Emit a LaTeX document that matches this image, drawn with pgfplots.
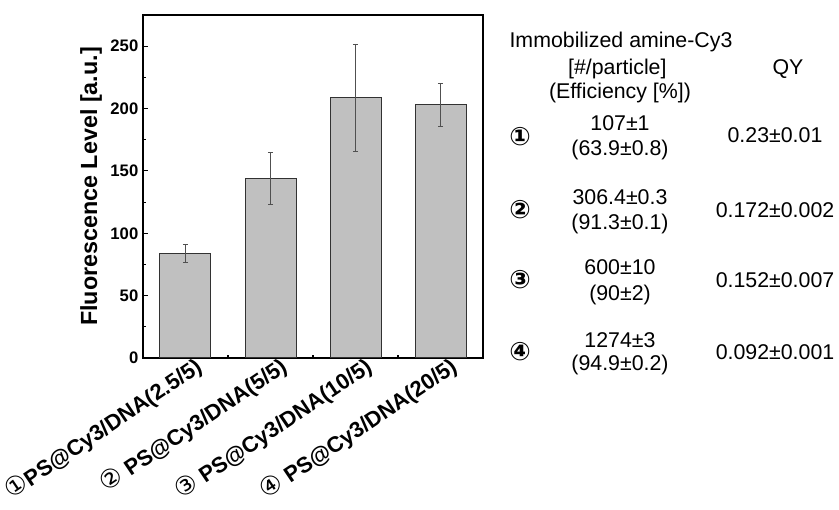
\documentclass[border=0pt]{standalone}
\usepackage{pgfplots}
\pgfplotsset{compat=1.18}
\usepackage{fontspec}
\setmainfont{Liberation Sans}
\newfontfamily\circfont{DejaVu Sans}

\definecolor{barfill}{RGB}{192,192,192}
\definecolor{barline}{RGB}{50,50,50}
\definecolor{errcol}{RGB}{80,80,80}

\newcommand{\cn}[1]{{\circfont\mdseries\fontsize{19}{19}\selectfont #1}}

\begin{document}
\begin{tikzpicture}[x=1pt,y=1pt]
\useasboundingbox (0,0) rectangle (629.25,382.5);
\begin{axis}[
  at={(107.25pt,114pt)}, anchor=south west,
  scale only axis, width=255pt, height=257.25pt,
  xmin=0.5, xmax=4.5, ymin=0, ymax=275,
  ybar, bar width=0.6,
  axis line style={line width=1.2pt},
  tick align=inside, xtick pos=bottom, ytick pos=left,
  xtick={1,2,3,4}, minor xtick={1.5,2.5,3.5},
  ytick={0,50,...,250}, minor y tick num=1,
  major tick length=3.5pt, minor tick length=2pt,
  tick style={line width=0.8pt, black},
  xticklabels={{\cn{①}PS@Cy3/DNA(2.5/5)},{\cn{②} PS@Cy3/DNA(5/5)},{\cn{③} PS@Cy3/DNA(10/5)},{\cn{④} PS@Cy3/DNA(20/5)}},
  xticklabel style={font=\fontsize{16.5}{18}\selectfont\bfseries, rotate=34, anchor=north east, inner sep=1pt, xshift=7pt},
  yticklabel style={font=\fontsize{12.5}{14}\selectfont\bfseries},
  /pgf/number format/assume math mode=true,
  ylabel={Fluorescence Level [a.u.]},
  ylabel style={font=\fontsize{17.5}{20}\selectfont\bfseries, at={(axis description cs:-0.12,0.5)}, anchor=south, inner sep=0pt},
]
\addplot[fill=barfill, draw=barline, line width=0.75pt,
  error bars/.cd, y dir=both, y explicit,
  error bar style={errcol, line width=0.6pt},
  error mark options={rotate=90, mark size=1.9pt, errcol, line width=0.6pt}] coordinates {
  (1,84) +- (0,7)
  (2,144) +- (0,21)
  (3,208.8) +- (0,43)
  (4,203) +- (0,17)
};
\end{axis}

\begin{scope}[every node/.style={font=\fontsize{16}{19}\selectfont, inner sep=0pt}]
\node[anchor=base] at (465.75,346.7) {Immobilized amine-Cy3};
\node[anchor=base] at (463,326.5) {[\#/particle]};
\node[anchor=base] at (591,326.5) {QY};
\node[anchor=base] at (465,308.5) {(Efficiency [\%])};

\node at (390,279.75) {\circfont\bfseries\fontsize{19}{19}\selectfont ①};
\node[anchor=base] at (465,284.5) {107±1};
\node[anchor=base] at (465,265.7) {(63.9±0.8)};
\node[anchor=base] at (581.25,275.5) {0.23±0.01};

\node at (390,225) {\circfont\bfseries\fontsize{19}{19}\selectfont ②};
\node[anchor=base] at (465,229) {306.4±0.3};
\node[anchor=base] at (465,210.2) {(91.3±0.1)};
\node[anchor=base] at (581.25,219.2) {0.172±0.002};

\node at (390,172.5) {\circfont\bfseries\fontsize{19}{19}\selectfont ③};
\node[anchor=base] at (465,176.5) {600±10};
\node[anchor=base] at (465,157) {(90±2)};
\node[anchor=base] at (581.25,166.7) {0.152±0.007};

\node at (390,118.5) {\circfont\bfseries\fontsize{19}{19}\selectfont ④};
\node[anchor=base] at (465,121.7) {1274±3};
\node[anchor=base] at (465,104.5) {(94.9±0.2)};
\node[anchor=base] at (581.25,112.7) {0.092±0.001};
\end{scope}
\end{tikzpicture}
\end{document}
